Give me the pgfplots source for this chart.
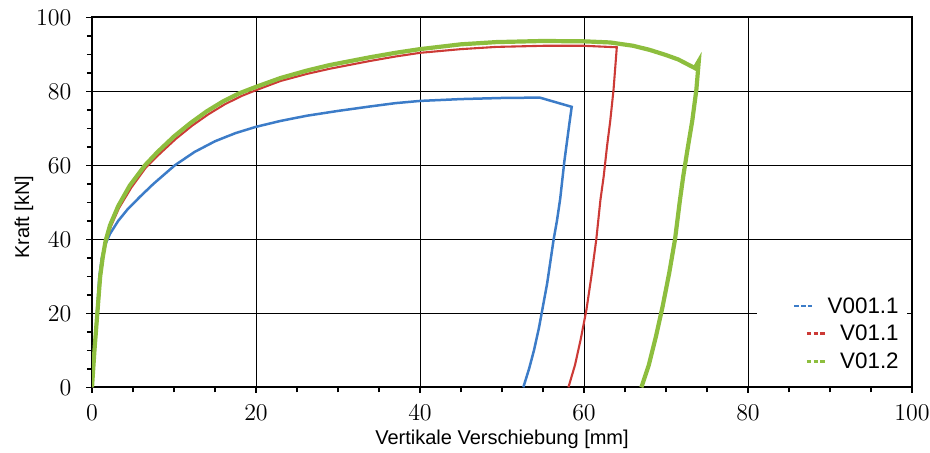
\documentclass[border=0pt]{standalone}
\usepackage{pgfplots}
\pgfplotsset{compat=1.18}
\usepackage{fontspec}
\setmainfont{Liberation Sans}
\definecolor{cblue}{HTML}{3C7CC8}
\definecolor{cred}{HTML}{CC3A36}
\definecolor{cgreen}{HTML}{8DBE3E}
\newcommand{\samp}[1]{\tikz[baseline=-0.6ex]\draw[#1, line width=1.3pt, dash pattern=on 2.2pt off 1.2pt] (0pt,0pt) -- (10pt,0pt);\hspace{6pt}}
\begin{document}
\begin{tikzpicture}
\useasboundingbox (-46pt,-32.35pt) rectangle (419pt,193.65pt);
\begin{axis}[
  at={(0,0)}, anchor=south west,
  scale only axis, width=410pt, height=185pt,
  xmin=0, xmax=100, ymin=0, ymax=100,
  xtick={0,20,...,100}, ytick={0,20,...,100},
  minor x tick num=3, minor y tick num=3,
  tick align=outside, xtick pos=bottom, ytick pos=left,
  major tick length=2.8pt, minor tick length=2.5pt,
  every tick/.style={black, line width=0.7pt},
  grid=major,
  major grid style={black, line width=0.5pt},
  axis line style={black, line width=0.9pt},
  tick label style={font=\fontsize{11.8}{13}\selectfont},
  xticklabel style={yshift=-2.5pt},
  yticklabel style={xshift=-4pt},
  label style={font=\fontsize{11}{13}\selectfont},
  xlabel={Vertikale Verschiebung [mm]},
  ylabel={Kraft [kN]},
  every axis x label/.style={at={(axis description cs:0.5,-0.14)}, anchor=center},
  every axis y label/.style={at={(axis description cs:-0.083,0.46)}, anchor=center, rotate=90},
  legend style={at={(axis cs:99.4,2.0)}, anchor=south east, fill=white, draw=none,
    font=\fontsize{11.2}{12}\selectfont, inner xsep=2pt, inner ysep=2pt, row sep=0.5pt},
  legend cell align=right,
  legend image code/.code={\path[draw=none] (0pt,0pt) -- (14pt,0pt);},
]
\addplot[cblue, line width=1.25pt] coordinates {
(0,0) (0.3,10) (0.6,20) (0.9,30) (1.2,35) (1.6,38.5) (2.2,41.5) (3.2,45.0) (4.3,48.0) (5.85,51.5) (7.5,55) (10.1,60) (12.5,63.6) (15,66.5) (17.5,68.7) (20,70.4) (23,72.0) (26.2,73.4) (30,74.7) (33.9,75.9) (37,76.8) (40,77.4) (45,77.9) (50,78.2) (54.6,78.3) (58.5,75.8) (58.2,71) (57.9,66) (57.6,61) (57.35,56) (57.1,51) (56.7,45) (56.3,40) (55.9,34) (55.5,28) (55.0,22) (54.5,16) (53.9,10) (53.3,5) (52.6,0)
};
\addplot[cred, line width=1.05pt] coordinates {
(0,0) (0.35,10) (0.7,20) (1.05,30) (1.35,35) (1.7,39.5) (2.3,43.5) (3.3,48.5) (4.8,54.0) (6.6,59.5) (8.3,63.2) (10.2,67.1) (12.2,70.7) (14.2,73.8) (16.2,76.5) (18.2,78.7) (20,80.3) (23,82.8) (26.2,84.7) (29,86.1) (33.9,88.2) (37,89.4) (40,90.4) (45,91.4) (49.3,92.0) (55,92.3) (60,92.3) (64,91.9) (63.6,80.4) (63.2,72) (62.8,65) (62.4,57) (62.0,50.6) (61.5,40) (60.9,30) (60.3,21) (59.6,13) (58.9,6) (58.1,0)
};
\addplot[cgreen, line width=2.1pt] coordinates {
(0,0) (0.3,10) (0.65,20) (1.0,30) (1.3,35) (1.65,39.5) (2.2,43.8) (3.2,49) (4.6,54.5) (6.46,60) (8,63.6) (10,67.8) (12,71.4) (14,74.6) (16,77.3) (18,79.5) (20,81.2) (23,83.6) (26.2,85.6) (29,87.1) (33.9,89.2) (37,90.4) (40,91.4) (45,92.7) (49.3,93.3) (55,93.6) (60.1,93.5) (63.2,93.2) (66,92.3) (68,91.2) (70,89.8) (71.5,88.6) (73.5,86.3) (74.0,88.2) (73.7,80.4) (73.2,72) (72.6,64) (72.1,57) (71.7,50.6) (71.1,40) (70.4,31) (69.6,22) (68.8,14) (67.9,6) (67.0,0)
};
\legend{\samp{cblue}V001.1,\samp{cred}V01.1,\samp{cgreen}V01.2}
\end{axis}
\end{tikzpicture}
\end{document}
